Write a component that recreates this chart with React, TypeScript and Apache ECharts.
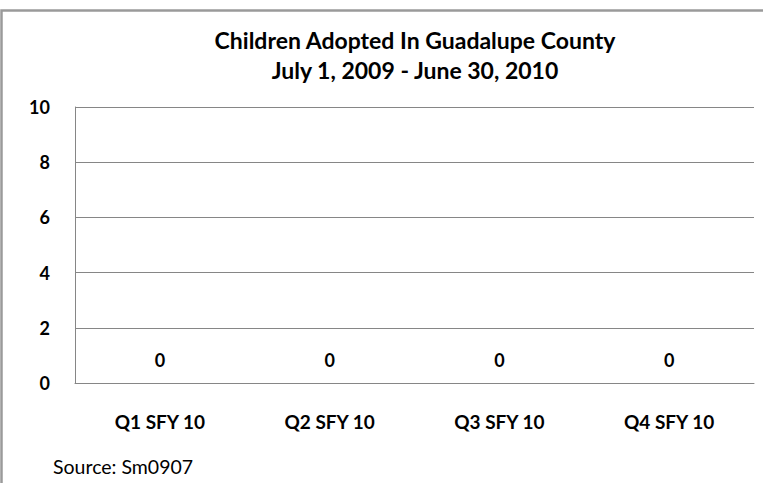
import React, { useEffect, useRef } from "react";
import * as echarts from "echarts";

const titleLines = ["Children Adopted In Guadalupe County", "July 1, 2009 - June 30, 2010"];
const categories = ["Q1 SFY 10", "Q2 SFY 10", "Q3 SFY 10", "Q4 SFY 10"];
const adopted = [0, 0, 0, 0];
const yMin = 0;
const yMax = 10;
const yStep = 2;
const sourceNote = "Source: Sm0907";

const FONT = "Lato, 'Open Sans', sans-serif";

export default function App() {
  const ref = useRef<HTMLDivElement>(null);
  useEffect(() => {
    document.body.style.margin = "0";
    if (!ref.current) return;
    const chart = echarts.init(ref.current, null, { renderer: "svg" });
    chart.setOption({
      animation: false,
      backgroundColor: "#ffffff",
      title: {
        text: titleLines.join("\n"),
        left: 410,
        textAlign: "center",
        top: 20,
        textStyle: {
          fontFamily: FONT,
          fontSize: 23,
          fontWeight: "bold",
          color: "#000",
          lineHeight: 30,
        },
      },
      graphic: [
        {
          type: "rect",
          shape: { x: 1.5, y: 10.5, width: 790, height: 500 },
          style: { fill: "none", stroke: "#9a9a9a", lineWidth: 2.5 },
          silent: true,
        },
        {
          type: "text",
          left: 53,
          top: 456,
          style: {
            text: sourceNote,
            fontFamily: FONT,
            fontSize: 19.5,
            fill: "#000",
          },
        },
      ],
      grid: { left: 75, right: 9, top: 107, bottom: 100 },
      xAxis: {
        type: "category",
        data: categories,
        axisLine: { show: true, lineStyle: { color: "#868686", width: 1 } },
        axisTick: { show: false },
        axisLabel: {
          margin: 29,
          fontFamily: FONT,
          fontSize: 19,
          fontWeight: "bold",
          color: "#000",
        },
      },
      yAxis: {
        type: "value",
        min: yMin,
        max: yMax,
        interval: yStep,
        axisLine: { show: true, lineStyle: { color: "#868686", width: 1 } },
        axisTick: { show: false },
        splitLine: { show: true, lineStyle: { color: "#868686", width: 1 } },
        axisLabel: {
          margin: 25,
          fontFamily: FONT,
          fontSize: 18,
          fontWeight: "bold",
          color: "#000",
        },
      },
      series: [
        {
          type: "bar",
          data: adopted,
          barWidth: "60%",
          itemStyle: { color: "#4f81bd" },
          label: {
            show: true,
            position: "top",
            distance: 14,
            fontFamily: FONT,
            fontSize: 18,
            fontWeight: "bold",
            color: "#000",
          },
        },
      ],
    });
    return () => chart.dispose();
  }, []);
  return <div ref={ref} style={{ width: 763, height: 483 }} />;
}
